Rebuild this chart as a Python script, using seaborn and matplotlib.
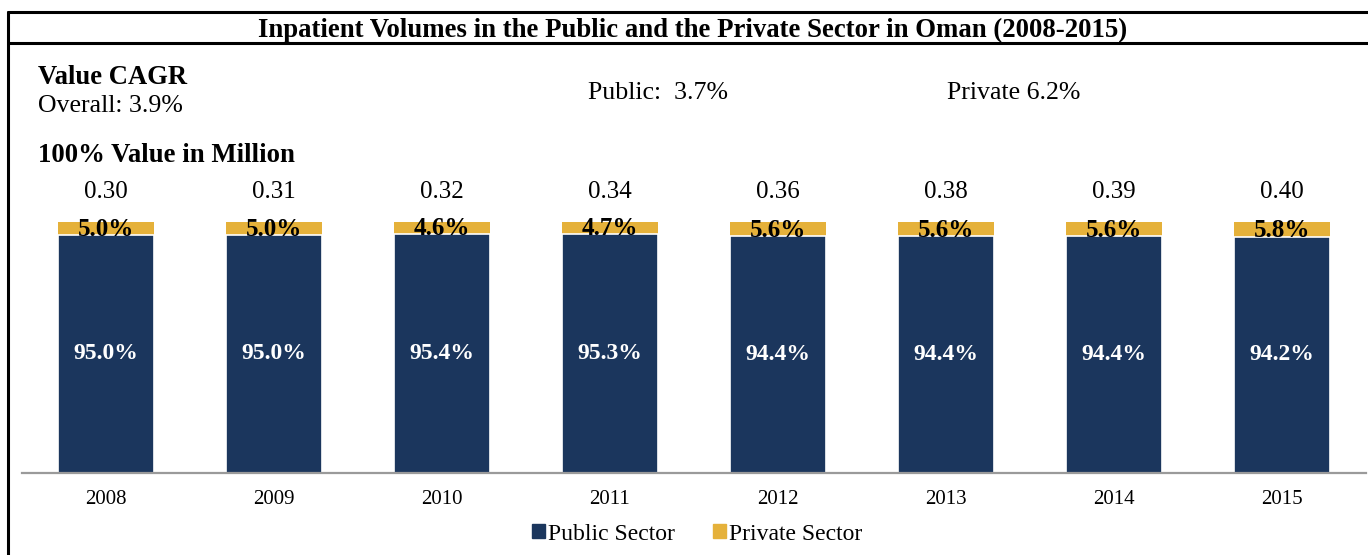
import matplotlib
matplotlib.use('Agg')
import matplotlib.pyplot as plt
from matplotlib.lines import Line2D
from matplotlib.patches import Patch
import seaborn as sns
import pandas as pd

years = ['2008', '2009', '2010', '2011', '2012', '2013', '2014', '2015']
public = [95.0, 95.0, 95.4, 95.3, 94.4, 94.4, 94.4, 94.2]
private = [5.0, 5.0, 4.6, 4.7, 5.6, 5.6, 5.6, 5.8]
totals = ['0.30', '0.31', '0.32', '0.34', '0.36', '0.38', '0.39', '0.40']

navy = '#1b365d'
gold = '#e5b13a'

df = pd.DataFrame({'year': years, 'public': public, 'private': private})
df['total'] = df['public'] + df['private']

sns.set_style('white')
plt.rcParams['font.family'] = ['Liberation Serif', 'DejaVu Serif']
plt.rcParams['text.color'] = 'black'
plt.rcParams['xtick.color'] = 'black'

W, H = 1368, 555
fig = plt.figure(figsize=(W / 100, H / 100), dpi=100)

def fx(x):
    return x / W

def fy(y):
    return 1 - y / H

ax = fig.add_axes([fx(22), fy(473), (1366 - 22) / W, (473 - 222) / H])

# stacked bars: full height in gold, public part in navy on top of it
sns.barplot(data=df, x='year', y='total', color=gold, width=0.57, saturation=1,
            edgecolor='white', linewidth=0, ax=ax)
sns.barplot(data=df, x='year', y='public', color=navy, width=0.57, saturation=1,
            edgecolor='white', linewidth=1.2, ax=ax)

ax.set_xlim(-0.5, 7.5)
ax.set_ylim(0, 100)
ax.set_xlabel('')
ax.set_ylabel('')
ax.set_yticks([])
for s in ['top', 'right', 'left']:
    ax.spines[s].set_visible(False)
ax.spines['bottom'].set_color('#9a9a9a')
ax.spines['bottom'].set_linewidth(1.6)
ax.tick_params(axis='x', length=0, pad=12.5, labelsize=15)

for i in range(len(years)):
    ax.text(i, public[i] / 2, f'{public[i]:.1f}%', ha='center', va='center',
            color='white', fontsize=17, fontweight='bold')
    ax.text(i, public[i] + private[i] / 2 - 0.4, f'{private[i]:.1f}%', ha='center',
            va='center', color='black', fontsize=18, fontweight='bold')
    ax.text(i, 111.8, totals[i], ha='center', va='center', fontsize=18,
            clip_on=False)

# frame and title band
lw = 2.2
fig.add_artist(Line2D([fx(8), fx(8)], [fy(12), 0], color='black', lw=lw))
fig.add_artist(Line2D([fx(8), 1], [fy(12), fy(12)], color='black', lw=lw))
fig.add_artist(Line2D([fx(8), 1], [fy(43), fy(43)], color='black', lw=lw))

fig.text(fx(693), fy(30), 'Inpatient Volumes in the Public and the Private Sector in Oman (2008-2015)',
         ha='center', va='center', fontsize=19.3, fontweight='bold')
fig.text(fx(38), fy(78), 'Value CAGR', ha='left', va='center', fontsize=19.2, fontweight='bold')
fig.text(fx(38), fy(106), 'Overall: 3.9%', ha='left', va='center', fontsize=18.6)
fig.text(fx(588), fy(93), 'Public:  3.7%', ha='left', va='center', fontsize=18.6)
fig.text(fx(947), fy(93), 'Private 6.2%', ha='left', va='center', fontsize=18.6)
fig.text(fx(38), fy(156), '100% Value in Million', ha='left', va='center', fontsize=19.3,
         fontweight='bold')

handles = [Patch(color=navy, label='Public Sector'), Patch(color=gold, label='Private Sector')]
fig.legend(handles=handles, loc='center', bbox_to_anchor=(fx(697), fy(534)), ncol=2,
           frameon=False, fontsize=17, handlelength=0.55, handleheight=0.55,
           handletextpad=0.15, columnspacing=1.6)

fig.savefig('out.png', dpi=100)
